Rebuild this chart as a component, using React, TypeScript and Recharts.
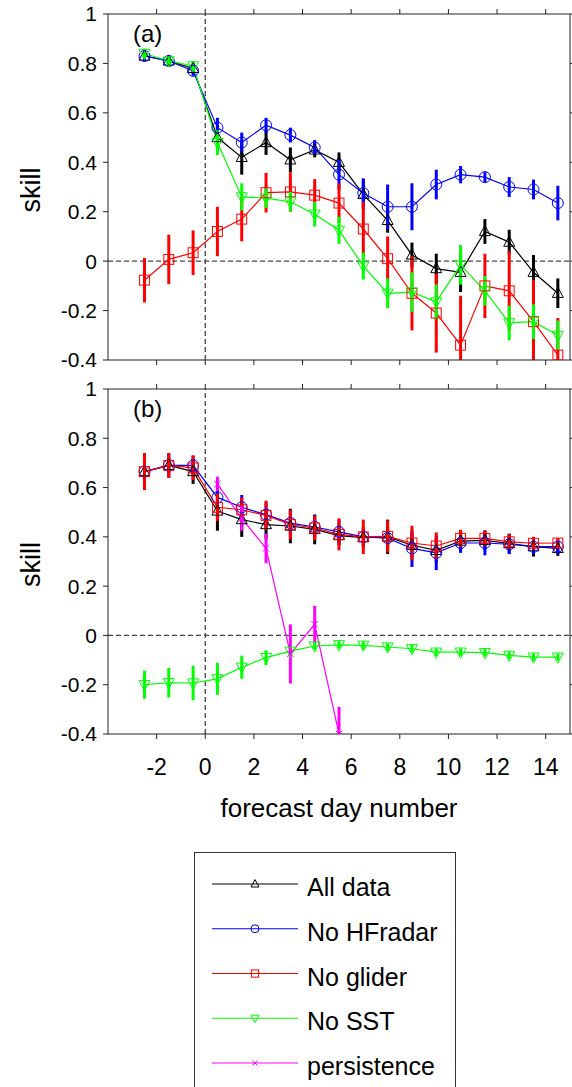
import React from "react";
import { LineChart, Line, XAxis, YAxis, ErrorBar, ReferenceLine, Label } from "recharts";

const days = [-2.5, -1.5, -0.5, 0.5, 1.5, 2.5, 3.5, 4.5, 5.5, 6.5, 7.5, 8.5, 9.5, 10.5, 11.5, 12.5, 13.5, 14.5];
const xTicks = [-2, 0, 2, 4, 6, 8, 10, 12, 14];
const yTicks = [-0.4, -0.2, 0, 0.2, 0.4, 0.6, 0.8, 1];
const yMin = -0.4;

// panel (a)
const allA = [0.83, 0.81, 0.78, 0.5, 0.42, 0.48, 0.41, 0.45, 0.4, 0.27, 0.165, 0.025, -0.03, -0.045, 0.12, 0.077, -0.045, -0.13];
const allAErr = [0.02, 0.02, 0.02, 0.05, 0.07, 0.05, 0.05, 0.03, 0.04, 0.06, 0.05, 0.05, 0.06, 0.08, 0.05, 0.05, 0.07, 0.06];
const hfA = [0.83, 0.81, 0.77, 0.54, 0.48, 0.55, 0.51, 0.46, 0.35, 0.275, 0.22, 0.22, 0.31, 0.35, 0.34, 0.3, 0.29, 0.235];
const hfAErr = [0.02, 0.02, 0.02, 0.04, 0.04, 0.03, 0.03, 0.03, 0.06, 0.06, 0.09, 0.095, 0.06, 0.035, 0.02, 0.04, 0.04, 0.07];
const gliderA = [-0.077, 0.007, 0.034, 0.12, 0.17, 0.277, 0.28, 0.267, 0.235, 0.13, 0.01, -0.13, -0.21, -0.34, -0.1, -0.12, -0.245, -0.38];
const gliderAErr = [0.09, 0.1, 0.09, 0.1, 0.09, 0.08, 0.08, 0.065, 0.08, 0.11, 0.09, 0.15, 0.16, 0.2, 0.13, 0.16, 0.17, 0.15];
const sstA = [0.84, 0.81, 0.79, 0.48, 0.26, 0.255, 0.24, 0.19, 0.125, -0.02, -0.13, -0.125, -0.165, -0.015, -0.12, -0.25, -0.245, -0.3];
const sstAErr = [0.02, 0.02, 0.02, 0.05, 0.055, 0.04, 0.04, 0.05, 0.055, 0.055, 0.06, 0.08, 0.07, 0.08, 0.06, 0.07, 0.07, 0.06];

// panel (b)
const allB = [0.665, 0.69, 0.665, 0.505, 0.47, 0.45, 0.444, 0.43, 0.405, 0.397, 0.4, 0.366, 0.345, 0.383, 0.386, 0.373, 0.36, 0.353];
const allBErr = [0.03, 0.03, 0.05, 0.08, 0.07, 0.06, 0.07, 0.06, 0.04, 0.04, 0.07, 0.05, 0.05, 0.04, 0.04, 0.04, 0.04, 0.03];
const hfB = [0.665, 0.69, 0.69, 0.56, 0.52, 0.49, 0.456, 0.44, 0.42, 0.4, 0.395, 0.353, 0.335, 0.375, 0.375, 0.37, 0.36, 0.36];
const hfBErr = [0.02, 0.05, 0.04, 0.04, 0.05, 0.05, 0.05, 0.05, 0.05, 0.04, 0.04, 0.075, 0.07, 0.04, 0.05, 0.04, 0.03, 0.03];
const gliderB = [0.665, 0.69, 0.68, 0.52, 0.51, 0.487, 0.45, 0.436, 0.41, 0.4, 0.402, 0.375, 0.363, 0.394, 0.394, 0.38, 0.374, 0.375];
const gliderBErr = [0.075, 0.05, 0.05, 0.055, 0.05, 0.06, 0.06, 0.05, 0.065, 0.07, 0.065, 0.07, 0.055, 0.035, 0.03, 0.03, 0.025, 0.02];
const sstB = [-0.2, -0.192, -0.193, -0.176, -0.129, -0.09, -0.064, -0.043, -0.038, -0.04, -0.047, -0.054, -0.068, -0.068, -0.07, -0.081, -0.088, -0.088];
const sstBErr = [0.057, 0.06, 0.07, 0.065, 0.047, 0.03, 0.02, 0.015, 0.015, 0.015, 0.015, 0.015, 0.015, 0.015, 0.015, 0.015, 0.015, 0.015];
const persB = [null, null, null, 0.614, 0.475, 0.353, -0.075, 0.045, -0.4, null, null, null, null, null, null, null, null, null];
const persBErr = [null, null, null, 0.03, 0.05, 0.06, 0.12, 0.075, 0.11, null, null, null, null, null, null, null, null, null];

const series = [
  { key: "all", name: "All data", color: "#000000", shape: "up" },
  { key: "hf", name: "No HFradar", color: "#0000ff", shape: "circle" },
  { key: "glider", name: "No glider", color: "#ff0000", shape: "square" },
  { key: "sst", name: "No SST", color: "#00ff00", shape: "down" },
  { key: "pers", name: "persistence", color: "#ff00ff", shape: "x" },
];

// error bar as [below, above], cut off at the bottom of the axis like the original plot
const bar = (v: number | null, e: number | null) =>
  v == null || e == null ? null : [Math.max(0, Math.min(e, v - yMin)), e];

const dataA = days.map((d, i) => ({
  day: d,
  all: allA[i], allErr: bar(allA[i], allAErr[i]),
  hf: hfA[i], hfErr: bar(hfA[i], hfAErr[i]),
  glider: gliderA[i], gliderErr: bar(gliderA[i], gliderAErr[i]),
  sst: sstA[i], sstErr: bar(sstA[i], sstAErr[i]),
}));

const dataB = days.map((d, i) => ({
  day: d,
  all: allB[i], allErr: bar(allB[i], allBErr[i]),
  hf: hfB[i], hfErr: bar(hfB[i], hfBErr[i]),
  glider: gliderB[i], gliderErr: bar(gliderB[i], gliderBErr[i]),
  sst: sstB[i], sstErr: bar(sstB[i], sstBErr[i]),
  pers: persB[i], persErr: bar(persB[i], persBErr[i]),
}));

const FONT = "'Liberation Sans', Arial, sans-serif";
const AXIS = "#222";

function Marker({ shape, x, y, color, s }: any) {
  const h = s / 2;
  if (shape === "up")
    return <polygon points={`${x},${y - h * 1.1} ${x - h},${y + h * 0.75} ${x + h},${y + h * 0.75}`} fill="none" stroke={color} strokeWidth={1} />;
  if (shape === "down")
    return <polygon points={`${x},${y + h * 1.1} ${x - h},${y - h * 0.75} ${x + h},${y - h * 0.75}`} fill="none" stroke={color} strokeWidth={1} />;
  if (shape === "circle") return <circle cx={x} cy={y} r={h} fill="none" stroke={color} strokeWidth={1} />;
  if (shape === "square") return <rect x={x - h * 0.9} y={y - h * 0.9} width={h * 1.8} height={h * 1.8} fill="none" stroke={color} strokeWidth={1} />;
  return (
    <g stroke={color} strokeWidth={1}>
      <line x1={x - h * 0.6} y1={y - h * 0.6} x2={x + h * 0.6} y2={y + h * 0.6} />
      <line x1={x - h * 0.6} y1={y + h * 0.6} x2={x + h * 0.6} y2={y - h * 0.6} />
    </g>
  );
}

const dotFor = (shape: string, color: string) => (props: any) => {
  const { cx, cy, index } = props;
  if (cx == null || cy == null || isNaN(cx) || isNaN(cy)) return <g key={index} />;
  return (
    <g key={index}>
      <Marker shape={shape} x={cx} y={cy} color={color} s={11} />
    </g>
  );
};

function Panel({ data, keys, tag, bottom }: any) {
  const height = bottom ? 465 : 375;
  const xHeight = bottom ? 106 : 10;
  return (
    <LineChart width={572} height={height} data={data} margin={{ top: 10, right: 1, left: 0, bottom: bottom ? 0 : 5 }}>
      <XAxis
        dataKey="day"
        type="number"
        domain={[-4, 15]}
        ticks={xTicks}
        height={xHeight}
        stroke={AXIS}
        tickSize={5}
        tickMargin={20}
        allowDataOverflow
        tick={{ fill: "#000", fontSize: 23, fontFamily: FONT }}
        tickFormatter={bottom ? (v: number) => String(v) : () => ""}
      >
        {bottom && (
          <Label
            content={(p: any) => {
              const vb = p.viewBox;
              return (
                <text x={vb.x + vb.width / 2} y={vb.y + 83} textAnchor="middle" fontSize={26} fontFamily={FONT} fill="#000">
                  forecast day number
                </text>
              );
            }}
          />
        )}
      </XAxis>
      <XAxis
        xAxisId="top"
        orientation="top"
        dataKey="day"
        type="number"
        domain={[-4, 15]}
        ticks={xTicks}
        height={4}
        stroke={AXIS}
        tickSize={5}
        allowDataOverflow
        tickFormatter={() => ""}
      >
        <Label
          content={(p: any) => {
            const vb = p.viewBox;
            return (
              <text x={vb.x + 25} y={vb.y + vb.height + 28} fontSize={24} fontFamily={FONT} fill="#000">
                {tag}
              </text>
            );
          }}
        />
      </XAxis>
      <YAxis
        type="number"
        domain={[-0.4, 1]}
        ticks={yTicks}
        width={108}
        stroke={AXIS}
        tickSize={5}
        tickMargin={6}
        allowDataOverflow
        tick={{ fill: "#000", fontSize: 21, fontFamily: FONT }}
      >
        <Label
          content={(p: any) => {
            const vb = p.viewBox;
            const cy = vb.y + vb.height / 2 + 3;
            return (
              <text x={31} y={cy} transform={`rotate(-90, 31, ${cy})`} textAnchor="middle" dominantBaseline="central" fontSize={27} fontFamily={FONT} fill="#000">
                skill
              </text>
            );
          }}
        />
      </YAxis>
      <YAxis
        yAxisId="r"
        orientation="right"
        type="number"
        domain={[-0.4, 1]}
        ticks={yTicks}
        width={1}
        stroke={AXIS}
        tickSize={5}
        allowDataOverflow
        tickFormatter={() => ""}
      />
      <ReferenceLine y={0} stroke="#444" strokeWidth={1.3} strokeDasharray="5 3" />
      <ReferenceLine x={0} stroke="#444" strokeWidth={1.3} strokeDasharray="5 3" />
      {series
        .filter((s) => keys.includes(s.key))
        .map((s) => (
          <Line
            key={s.key}
            type="linear"
            dataKey={s.key}
            name={s.name}
            stroke={s.color}
            strokeWidth={1.2}
            dot={dotFor(s.shape, s.color)}
            activeDot={false}
            isAnimationActive={false}
          >
            <ErrorBar dataKey={s.key + "Err"} direction="y" width={0} stroke={s.color} strokeWidth={3} isAnimationActive={false} />
          </Line>
        ))}
    </LineChart>
  );
}

function LegendBox() {
  const rowY = [31, 75.75, 120.5, 165.25, 210];
  return (
    <div style={{ position: "absolute", left: 194, top: 852, width: 262, height: 260, border: "1.5px solid #333", boxSizing: "border-box", background: "#fff" }}>
      <svg width={262} height={260}>
        {series.map((s, i) => (
          <g key={s.key}>
            <line x1={17} x2={103} y1={rowY[i]} y2={rowY[i]} stroke={s.color} strokeWidth={1.2} />
            <Marker shape={s.shape} x={60} y={rowY[i]} color={s.color} s={8} />
            <text x={112} y={rowY[i] + 12} fontSize={25} fontFamily={FONT} fill="#000">
              {s.name}
            </text>
          </g>
        ))}
      </svg>
    </div>
  );
}

export default function App() {
  return (
    <div style={{ position: "absolute", left: 0, top: 0, width: 572, height: 1087, overflow: "hidden", background: "#fff", fontFamily: FONT }}>
      <Panel data={dataA} keys={["all", "hf", "glider", "sst"]} tag="(a)" bottom={false} />
      <Panel data={dataB} keys={["all", "hf", "glider", "sst", "pers"]} tag="(b)" bottom={true} />
      <LegendBox />
    </div>
  );
}
